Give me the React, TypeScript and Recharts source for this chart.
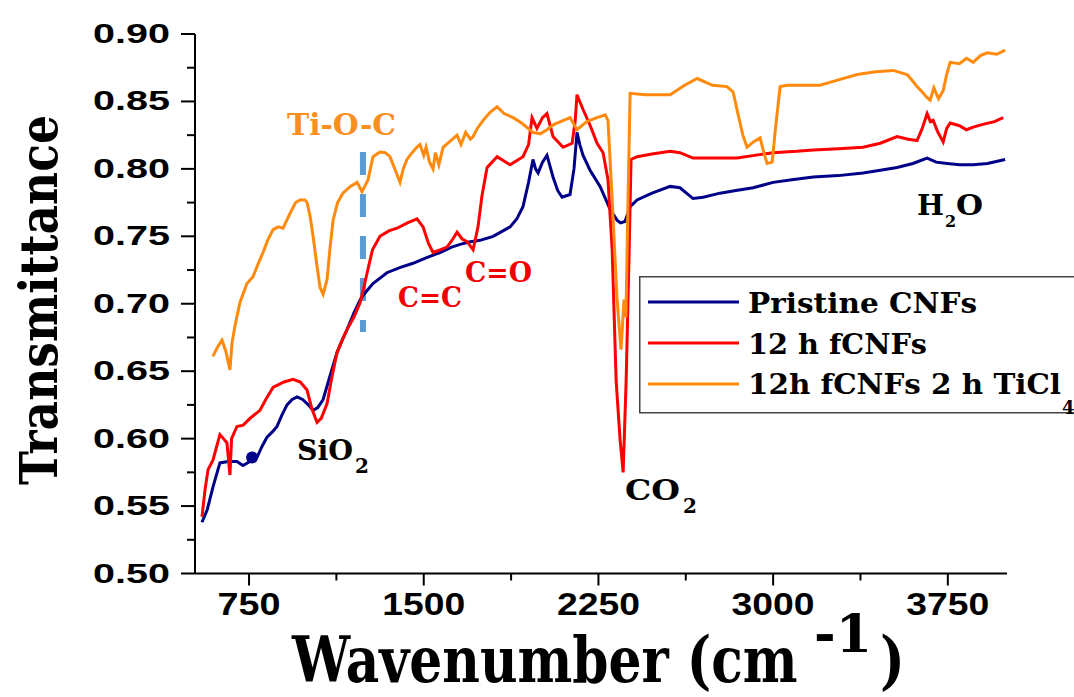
import { Legend, Line, LineChart, ReferenceDot, ReferenceLine, XAxis, YAxis } from "recharts";

// wavenumber (cm-1) and transmittance
const pristineWave = [548, 570, 595, 625, 660, 698, 724, 754, 784, 805, 827, 850, 870, 890, 913, 935, 956, 980, 999, 1025, 1045, 1068, 1100, 1128, 1150, 1171, 1200, 1227, 1248, 1282, 1342, 1400, 1454, 1510, 1570, 1620, 1656, 1700, 1742, 1798, 1840, 1871, 1900, 1926, 1950, 1969, 1980, 1991, 2010, 2029, 2055, 2075, 2094, 2128, 2145, 2158, 2170, 2184, 2214, 2257, 2300, 2330, 2345, 2364, 2386, 2416, 2480, 2558, 2600, 2656, 2700, 2772, 2840, 2914, 3000, 3080, 3172, 3280, 3386, 3460, 3532, 3600, 3661, 3700, 3747, 3800, 3859, 3920, 3996];
const pristineT = [0.538, 0.547, 0.564, 0.582, 0.583, 0.583, 0.58, 0.583, 0.586, 0.594, 0.601, 0.605, 0.609, 0.617, 0.625, 0.629, 0.631, 0.629, 0.626, 0.621, 0.623, 0.629, 0.648, 0.664, 0.673, 0.681, 0.693, 0.703, 0.708, 0.715, 0.723, 0.727, 0.73, 0.734, 0.738, 0.742, 0.744, 0.746, 0.747, 0.75, 0.754, 0.757, 0.763, 0.772, 0.79, 0.807, 0.8, 0.797, 0.805, 0.81, 0.794, 0.784, 0.779, 0.781, 0.8, 0.827, 0.818, 0.81, 0.799, 0.787, 0.77, 0.762, 0.76, 0.761, 0.772, 0.777, 0.782, 0.787, 0.786, 0.778, 0.779, 0.782, 0.784, 0.786, 0.79, 0.792, 0.794, 0.795, 0.797, 0.799, 0.801, 0.804, 0.808, 0.805, 0.804, 0.803, 0.803, 0.804, 0.807];

const fcnfWave = [548, 561, 574, 595, 625, 640, 655, 668, 675, 698, 725, 754, 797, 825, 853, 900, 939, 970, 999, 1020, 1042, 1060, 1085, 1105, 1128, 1150, 1171, 1200, 1227, 1240, 1257, 1280, 1312, 1350, 1385, 1430, 1471, 1497, 1520, 1540, 1570, 1600, 1625, 1643, 1665, 1686, 1712, 1733, 1750, 1772, 1815, 1871, 1926, 1950, 1965, 1986, 2010, 2029, 2055, 2098, 2137, 2150, 2158, 2184, 2215, 2244, 2270, 2291, 2309, 2326, 2343, 2356, 2369, 2382, 2390, 2416, 2480, 2558, 2600, 2656, 2750, 2845, 2920, 3000, 3100, 3172, 3280, 3386, 3460, 3532, 3580, 3618, 3640, 3661, 3675, 3687, 3705, 3730, 3745, 3760, 3800, 3830, 3859, 3900, 3950, 3988];
const fcnfT = [0.542, 0.562, 0.577, 0.584, 0.603, 0.6, 0.597, 0.573, 0.6, 0.609, 0.61, 0.615, 0.621, 0.63, 0.638, 0.642, 0.644, 0.642, 0.636, 0.622, 0.612, 0.615, 0.626, 0.645, 0.664, 0.673, 0.681, 0.69, 0.701, 0.71, 0.723, 0.74, 0.75, 0.754, 0.756, 0.76, 0.763, 0.757, 0.745, 0.738, 0.74, 0.742, 0.748, 0.753, 0.748, 0.746, 0.74, 0.757, 0.78, 0.801, 0.809, 0.803, 0.809, 0.818, 0.838, 0.83, 0.838, 0.841, 0.824, 0.816, 0.819, 0.835, 0.855, 0.844, 0.832, 0.819, 0.812, 0.792, 0.74, 0.643, 0.599, 0.575, 0.643, 0.74, 0.807, 0.809, 0.811, 0.813, 0.812, 0.808, 0.808, 0.808, 0.81, 0.812, 0.813, 0.814, 0.815, 0.816, 0.819, 0.824, 0.822, 0.821, 0.83, 0.841, 0.835, 0.836, 0.828, 0.82, 0.83, 0.834, 0.832, 0.829, 0.831, 0.833, 0.835, 0.838];

const ticlWave = [595, 615, 634, 650, 668, 677, 690, 711, 741, 767, 790, 810, 830, 853, 875, 896, 926, 950, 969, 990, 999, 1012, 1025, 1040, 1055, 1068, 1085, 1098, 1111, 1130, 1153, 1185, 1214, 1235, 1261, 1282, 1312, 1335, 1355, 1380, 1398, 1412, 1428, 1450, 1470, 1484, 1500, 1510, 1525, 1540, 1550, 1565, 1583, 1610, 1643, 1660, 1680, 1700, 1712, 1730, 1755, 1785, 1815, 1845, 1884, 1920, 1969, 2000, 2029, 2060, 2100, 2128, 2158, 2200, 2244, 2279, 2291, 2309, 2330, 2347, 2360, 2368, 2377, 2386, 2450, 2558, 2620, 2674, 2740, 2802, 2828, 2850, 2870, 2888, 2915, 2944, 2960, 2974, 2996, 3010, 3030, 3060, 3202, 3280, 3361, 3440, 3515, 3575, 3600, 3618, 3640, 3660, 3674, 3690, 3710, 3730, 3745, 3760, 3800, 3830, 3859, 3890, 3919, 3960, 3996];
const ticlT = [0.661, 0.668, 0.673, 0.665, 0.651, 0.671, 0.684, 0.701, 0.715, 0.72, 0.73, 0.738, 0.747, 0.755, 0.757, 0.756, 0.767, 0.775, 0.777, 0.777, 0.775, 0.765, 0.75, 0.73, 0.712, 0.707, 0.718, 0.742, 0.762, 0.775, 0.782, 0.787, 0.79, 0.783, 0.792, 0.809, 0.8125, 0.812, 0.809, 0.798, 0.79, 0.8, 0.807, 0.812, 0.816, 0.818, 0.81, 0.816, 0.805, 0.8, 0.812, 0.803, 0.816, 0.82, 0.825, 0.818, 0.827, 0.822, 0.824, 0.83, 0.836, 0.842, 0.846, 0.841, 0.838, 0.834, 0.827, 0.826, 0.829, 0.833, 0.836, 0.838, 0.829, 0.835, 0.838, 0.84, 0.836, 0.777, 0.703, 0.666, 0.703, 0.69, 0.777, 0.856, 0.855, 0.855, 0.862, 0.867, 0.862, 0.861, 0.857, 0.84, 0.825, 0.816, 0.82, 0.823, 0.812, 0.804, 0.805, 0.83, 0.861, 0.862, 0.862, 0.866, 0.87, 0.872, 0.873, 0.87, 0.865, 0.861, 0.857, 0.853, 0.851, 0.86, 0.852, 0.858, 0.87, 0.879, 0.878, 0.882, 0.879, 0.884, 0.886, 0.885, 0.888];

const seriesNames = ["Pristine CNFs", "12 h fCNFs", "12h fCNFs 2 h TiCl"];
const seriesColors = ["#000088", "#FF0000", "#FF8A0D"];
const xTicks = [750, 1125, 1500, 1875, 2250, 2625, 3000, 3375, 3750];
const yTicks = [0.5, 0.525, 0.55, 0.575, 0.6, 0.625, 0.65, 0.675, 0.7, 0.725, 0.75, 0.775, 0.8, 0.825, 0.85, 0.875, 0.9];

const zip = (w: number[], t: number[]) => w.map((v, i) => ({ w: v, t: t[i] }));
const pristine = zip(pristineWave, pristineT);
const fcnf = zip(fcnfWave, fcnfT);
const ticl = zip(ticlWave, ticlT);

const sans = "'Liberation Sans', Arial, sans-serif";
const serif = "'DejaVu Serif', serif";

const YTick = (props: any) => {
  const { x, y, payload } = props;
  const v = payload.value;
  const major = Math.abs(v * 20 - Math.round(v * 20)) < 1e-6;
  return (
    <g>
      <line x1={x - (major ? 14 : 8)} x2={x} y1={y} y2={y} stroke="#000" strokeWidth={2} />
      {major && (
        <text x={x - 102} y={y + 9} fontFamily={sans} fontWeight="bold" fontSize={27} textLength={77} lengthAdjust="spacingAndGlyphs" fill="#000">
          {v.toFixed(2)}
        </text>
      )}
    </g>
  );
};

const XTick = (props: any) => {
  const { x, y, payload } = props;
  const v = payload.value;
  const major = v % 750 === 0;
  const label = String(v);
  return (
    <g>
      <line x1={x} x2={x} y1={y} y2={y + (major ? 12 : 7)} stroke="#000" strokeWidth={2} />
      {major && (
        <text x={x} y={y + 41} textAnchor="middle" fontFamily={sans} fontWeight="bold" fontSize={32} textLength={label.length === 3 ? 63 : 83} lengthAdjust="spacingAndGlyphs" fill="#000">
          {label}
        </text>
      )}
    </g>
  );
};

const textLengths = [229, 179, 313];

const renderLegend = () => (
  <svg width={440} height={150} style={{ overflow: "visible", display: "block" }}>
    <rect x={0.75} y={0.75} width={440} height={136} fill="#fff" stroke="#444" strokeWidth={1.5} />
    {seriesNames.map((name, i) => (
      <g key={name}>
        <line x1={9} x2={100} y1={26 + i * 41} y2={26 + i * 41} stroke={seriesColors[i]} strokeWidth={3} />
        <text x={109} y={37 + i * 40.5} fontFamily={serif} fontWeight="bold" fontSize={28} textLength={textLengths[i]} lengthAdjust="spacingAndGlyphs" fill="#000">
          {name}
        </text>
      </g>
    ))}
    <text x={423} y={138} fontFamily={serif} fontWeight="bold" fontSize={18} fill="#000">4</text>
  </svg>
);

export default function App() {
  return (
    <div style={{ position: "absolute", left: 0, top: 0, width: 1074, height: 697, overflow: "hidden", background: "#fff" }}>
      <LineChart width={1074} height={697} margin={{ top: 34, right: 67, bottom: 0, left: 0 }}>
        <XAxis
          dataKey="w"
          type="number"
          domain={[518, 4004]}
          allowDataOverflow
          ticks={xTicks}
          interval={0}
          tickSize={0}
          tickMargin={0}
          tickLine={false}
          tick={<XTick />}
          height={123.5}
          axisLine={{ stroke: "#000", strokeWidth: 2 }}
        />
        <YAxis
          type="number"
          domain={[0.5, 0.9]}
          allowDataOverflow
          ticks={yTicks}
          interval={0}
          tickSize={0}
          tickMargin={0}
          tickLine={false}
          tick={<YTick />}
          width={195}
          axisLine={{ stroke: "#000", strokeWidth: 2 }}
        />
        <Legend
          layout="horizontal"
          verticalAlign="middle"
          align="center"
          content={renderLegend}
          wrapperStyle={{ position: "absolute", left: 639, top: 276, width: 440, height: 137 }}
        />
        <ReferenceLine
          segment={[{ x: 1239, y: 0.8125 }, { x: 1239, y: 0.679 }]}
          stroke="#5B9BD5"
          strokeWidth={6}
          strokeDasharray="23 19"
        />
        <Line data={pristine} dataKey="t" name={seriesNames[0]} type="linear" dot={false} stroke={seriesColors[0]} strokeWidth={3} isAnimationActive={false} />
        <Line data={fcnf} dataKey="t" name={seriesNames[1]} type="linear" dot={false} stroke={seriesColors[1]} strokeWidth={3} isAnimationActive={false} />
        <Line data={ticl} dataKey="t" name={seriesNames[2]} type="linear" dot={false} stroke={seriesColors[2]} strokeWidth={3} isAnimationActive={false} />
        <ReferenceDot x={763} y={0.586} r={6} fill="#000088" stroke="none" />
      </LineChart>
      <svg width={1074} height={697} style={{ position: "absolute", left: 0, top: 0, pointerEvents: "none" }}>
        <text transform="rotate(-90 57 300)" x={57} y={300} textAnchor="middle" fontFamily={serif} fontWeight="bold" fontSize={52} textLength={370} lengthAdjust="spacingAndGlyphs" fill="#000">
          Transmittance
        </text>
        <text transform="translate(292 682) scale(0.8 1)" x={0} y={0} fontFamily={serif} fontWeight="bold" fontSize={64} textLength={632} lengthAdjust="spacingAndGlyphs" fill="#000">
          Wavenumber (cm
        </text>
        <text x={814} y={652} fontFamily={serif} fontWeight="bold" fontSize={52} textLength={58} lengthAdjust="spacingAndGlyphs" fill="#000">
          -1
        </text>
        <text transform="translate(880 682) scale(0.83 1)" x={0} y={0} fontFamily={serif} fontWeight="bold" fontSize={64} textLength={30} lengthAdjust="spacingAndGlyphs" fill="#000">
          )
        </text>
        <text x={287} y={135} fontFamily={serif} fontWeight="bold" fontSize={29} textLength={109} lengthAdjust="spacingAndGlyphs" fill="#F7901E">
          Ti-O-C
        </text>
        <text x={398} y={307} fontFamily={serif} fontWeight="bold" fontSize={28} textLength={64} lengthAdjust="spacingAndGlyphs" fill="#F00000">
          C=C
        </text>
        <text x={465} y={282} fontFamily={serif} fontWeight="bold" fontSize={28} textLength={67} lengthAdjust="spacingAndGlyphs" fill="#F00000">
          C=O
        </text>
        <text x={297} y={460} fontFamily={serif} fontWeight="bold" fontSize={28} textLength={56} lengthAdjust="spacingAndGlyphs" fill="#000">
          SiO
        </text>
        <text x={355} y={473} fontFamily={serif} fontWeight="bold" fontSize={20} fill="#000">2</text>
        <text x={625} y={500} fontFamily={serif} fontWeight="bold" fontSize={28} textLength={55} lengthAdjust="spacingAndGlyphs" fill="#000">
          CO
        </text>
        <text x={683} y={513} fontFamily={serif} fontWeight="bold" fontSize={20} fill="#000">2</text>
        <text x={917} y={215} fontFamily={serif} fontWeight="bold" fontSize={28} textLength={27} lengthAdjust="spacingAndGlyphs" fill="#000">
          H
        </text>
        <text x={945} y={227} fontFamily={serif} fontWeight="bold" fontSize={16} fill="#000">2</text>
        <text x={956} y={215} fontFamily={serif} fontWeight="bold" fontSize={28} textLength={27} lengthAdjust="spacingAndGlyphs" fill="#000">
          O
        </text>
      </svg>
    </div>
  );
}
